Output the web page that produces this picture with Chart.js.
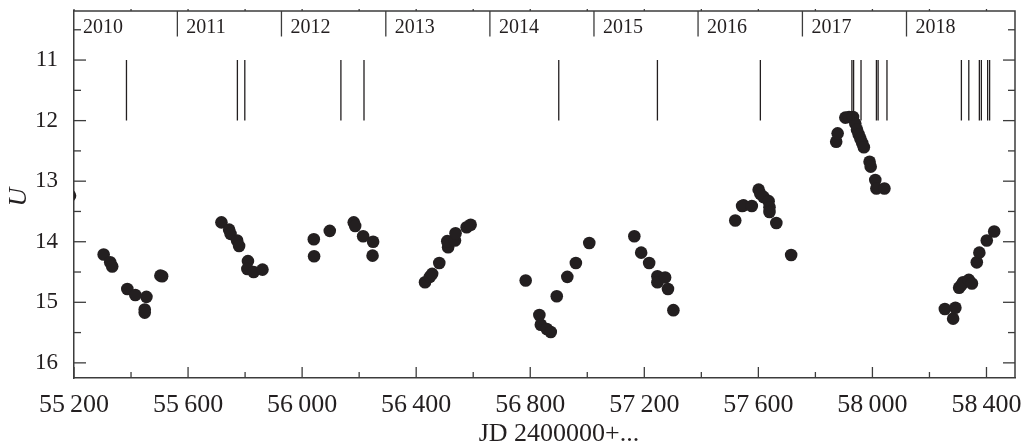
<!DOCTYPE html>
<html>
<head>
<meta charset="utf-8">
<script src="https://cdn.jsdelivr.net/npm/chart.js@4.4.1/dist/chart.umd.min.js"></script>
<style>
  html, body { margin: 0; padding: 0; background: #fff; }
  #wrap { width: 1024px; height: 445px; position: relative; }
</style>
</head>
<body>
<div id="wrap"><canvas id="c" width="1024" height="445"></canvas></div>
<script>
// U-band photometry: Julian date (JD - 2400000) and magnitude
const jd = [
  55186, 55304, 55327, 55334, 55387, 55415, 55454, 55448, 55448, 55503, 55509,
  55717, 55744, 55749, 55772, 55779, 55810, 55808, 55830, 55861,
  56041, 56042, 56097, 56181, 56186, 56214, 56249, 56247,
  56431, 56448, 56456, 56481, 56512, 56509, 56536, 56538, 56577, 56591,
  56784, 56832, 56837, 56858, 56872, 56893, 56930, 56960, 57007,
  57165, 57189, 57217, 57246, 57246, 57273, 57283, 57302,
  57519, 57543, 57548, 57577, 57601, 57607, 57618, 57636, 57639, 57639, 57663, 57715,
  57873, 57878, 57905, 57918, 57932, 57940, 57946, 57952, 57958, 57964, 57970, 57990, 57994, 58010, 58014, 58042,
  58254, 58283, 58291, 58304, 58311, 58318, 58338, 58349, 58366, 58375, 58401, 58427
];
const uMag = [
  13.24, 14.21, 14.34, 14.41, 14.78, 14.88, 14.91, 15.12, 15.17, 14.56, 14.57,
  13.68, 13.80, 13.87, 13.98, 14.07, 14.32, 14.45, 14.50, 14.46,
  13.96, 14.24, 13.82, 13.68, 13.74, 13.91, 14.00, 14.23,
  14.67, 14.58, 14.53, 14.35, 14.09, 13.99, 13.98, 13.86, 13.76, 13.72,
  14.64, 15.21, 15.37, 15.44, 15.49, 14.90, 14.58, 14.35, 14.02,
  13.91, 14.18, 14.35, 14.57, 14.67, 14.59, 14.78, 15.13,
  13.65, 13.41, 13.40, 13.41, 13.14, 13.21, 13.26, 13.33, 13.43, 13.51, 13.69, 14.22,
  12.35, 12.21, 11.95, 11.94, 11.94, 12.05, 12.15, 12.23, 12.30, 12.37, 12.44, 12.68, 12.76, 12.98, 13.12, 13.12,
  15.11, 15.27, 15.09, 14.76, 14.72, 14.67, 14.63, 14.69, 14.34, 14.18, 13.98, 13.83
];

// Dates of the spectra, marked by bars between U = 11 and U = 12
const spectraJD = [
  55384, 55773, 55799, 56136, 56217, 56900, 57246, 57607,
  57928, 57934, 57960, 58014, 58020, 58051,
  58312, 58338, 58375, 58382, 58404, 58411
];
const barTop = 11;
const barBottom = 12;

// Calendar years along the top edge (JD - 2400000 of 1 January)
const yearStarts = [55197.5, 55562.5, 55927.5, 56293.5, 56658.5, 57023.5, 57388.5, 57754.5, 58119.5];
const yearLabels = ['2010', '2011', '2012', '2013', '2014', '2015', '2016', '2017', '2018'];

// Axis ranges and tick spacing
const xMin = 55200, xMax = 58500, xStep = 200, xLabelStep = 400;
const yMin = 10.19, yMax = 16.25, yStep = 0.5;

const INK = '#231f20';
const AXIS = '#3c3c3c';
const SERIF = "'Liberation Serif', 'DejaVu Serif', serif";

const points = jd.map((x, i) => ({ x, y: uMag[i] }));
const bars = [];
spectraJD.forEach(x => {
  bars.push({ x, y: barTop }, { x, y: barBottom }, { x, y: null });
});

function thinGroup(v) {
  const s = String(v);
  return s.slice(0, s.length - 3) + '\u2009' + s.slice(-3);
}

// Keep the plot frame fixed: no extra room reserved for overhanging labels
function fixScale(size) {
  return s => {
    if (s.isHorizontal()) s.height = size; else s.width = size;
    s.paddingLeft = 0; s.paddingRight = 0; s.paddingTop = 0; s.paddingBottom = 0;
  };
}

// Inward tick marks, top/right frame, year strip and axis titles
const framePlugin = {
  id: 'frame',
  afterDraw(chart) {
    const { ctx, chartArea: a, scales: { x, y } } = chart;
    const seg = (x1, y1, x2, y2) => { ctx.beginPath(); ctx.moveTo(x1, y1); ctx.lineTo(x2, y2); ctx.stroke(); };
    ctx.save();
    ctx.strokeStyle = AXIS;
    ctx.lineWidth = 1.5;
    ctx.beginPath();
    ctx.moveTo(a.left, a.top);
    ctx.lineTo(a.right, a.top);
    ctx.lineTo(a.right, a.bottom);
    ctx.stroke();

    ctx.lineWidth = 1.3;
    x.ticks.forEach(t => {
      const px = x.getPixelForValue(t.value);
      const len = t.value % xLabelStep === 0 ? 11 : 6;
      seg(px, a.bottom, px, a.bottom - len);
      seg(px, a.top, px, a.top - 2);
    });
    y.ticks.forEach(t => {
      const py = y.getPixelForValue(t.value);
      const len = Number.isInteger(t.value) ? 12 : 7;
      seg(a.left, py, a.left + len, py);
      seg(a.right, py, a.right - len, py);
    });

    ctx.fillStyle = INK;
    ctx.font = '20px ' + SERIF;
    ctx.textAlign = 'left';
    ctx.textBaseline = 'alphabetic';
    yearStarts.forEach((v, i) => {
      const px = x.getPixelForValue(v);
      if (px > a.left + 1) seg(px, a.top, px, a.top + 25.5);
      ctx.fillText(yearLabels[i], Math.max(px, a.left) + 9, a.top + 21.5);
    });

    ctx.font = '26px ' + SERIF;
    ctx.textAlign = 'center';
    ctx.fillText('JD 2400000+...', 559, 441);

    ctx.translate(19, 197);
    ctx.rotate(-Math.PI / 2);
    ctx.font = 'italic 26px ' + SERIF;
    ctx.textBaseline = 'middle';
    ctx.fillText('U', 0, 0);
    ctx.restore();
  }
};

new Chart(document.getElementById('c'), {
  type: 'scatter',
  data: {
    datasets: [
      {
        label: 'spectra',
        data: bars,
        showLine: true,
        spanGaps: false,
        borderColor: INK,
        borderWidth: 1.3,
        pointRadius: 0,
        pointHoverRadius: 0
      },
      {
        label: 'U',
        data: points,
        pointRadius: 6.3,
        pointHoverRadius: 6.3,
        pointBackgroundColor: INK,
        pointBorderColor: INK,
        pointBorderWidth: 0,
        clip: 0
      }
    ]
  },
  options: {
    responsive: false,
    animation: false,
    events: [],
    layout: { padding: { top: 11, right: 9, left: 0, bottom: 0 } },
    plugins: { legend: { display: false }, tooltip: { enabled: false } },
    scales: {
      x: {
        type: 'linear',
        min: xMin,
        max: xMax,
        grid: { display: false, drawTicks: false },
        border: { display: true, color: AXIS, width: 1.5 },
        ticks: {
          stepSize: xStep,
          includeBounds: false,
          autoSkip: false,
          maxRotation: 0,
          padding: 12,
          color: INK,
          font: { family: SERIF, size: 26 },
          callback: v => (v % xLabelStep === 0 ? thinGroup(v) : '')
        },
        afterFit: fixScale(67)
      },
      y: {
        type: 'linear',
        reverse: true,
        min: yMin,
        max: yMax,
        grid: { display: false, drawTicks: false },
        border: { display: true, color: AXIS, width: 1.5 },
        ticks: {
          stepSize: yStep,
          includeBounds: false,
          autoSkip: false,
          padding: 16,
          color: INK,
          font: { family: SERIF, size: 23 },
          callback: v => (Number.isInteger(v) ? String(v) : '')
        },
        afterFit: fixScale(74)
      }
    }
  },
  plugins: [framePlugin]
});
</script>
</body>
</html>
